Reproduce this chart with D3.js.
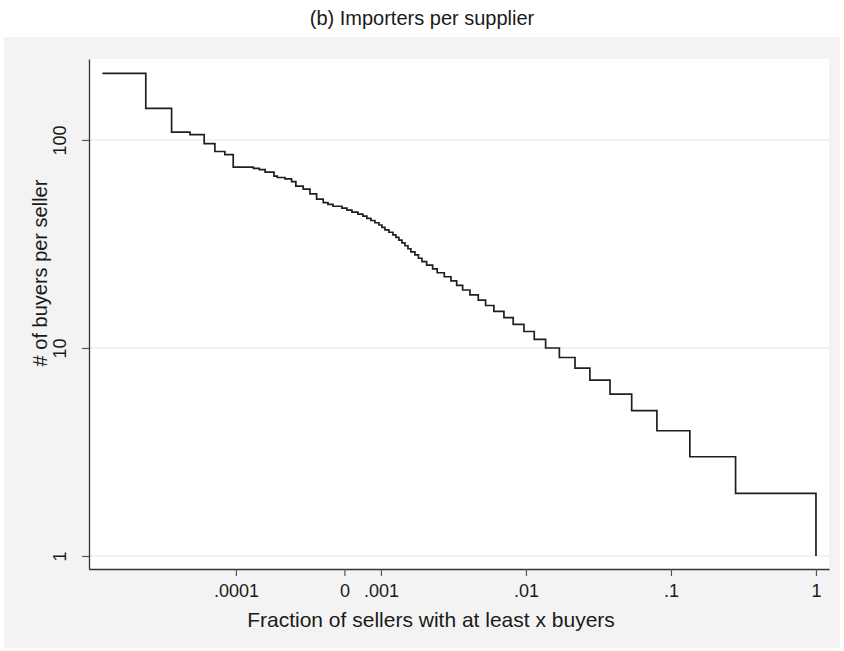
<!DOCTYPE html>
<html>
<head>
<meta charset="utf-8">
<script src="https://cdn.jsdelivr.net/npm/d3@7"></script>
<style>
  html, body { margin: 0; padding: 0; background: #ffffff; }
  svg { display: block; }
  text { font-family: "Liberation Sans", Arial, Helvetica, sans-serif; fill: #1a1a1a; }
</style>
</head>
<body>
<div id="chart"></div>
<script>
// Number of buyers per seller (y) at each step
const buyers = [209, 142, 109, 106, 96, 88, 85, 74, 73, 72, 70, 67, 66, 65, 63, 60, 58, 55, 52,
  50, 49, 48, 47, 46, 45, 44, 43, 42, 41, 40, 39, 38, 37, 36, 35, 34, 33, 32, 31, 30,
  29, 28, 27, 26, 25, 24, 23, 22, 21, 20, 19, 18, 17, 16, 15, 14, 13, 12, 11, 10,
  9, 8, 7, 6, 5, 4, 3, 2, 1];
// Fraction of sellers with at least x buyers (x)
const fraction = [1.20e-5, 2.39e-5, 3.60e-5, 4.82e-5, 6.04e-5, 7.16e-5, 8.39e-5, 9.58e-5, 1.32e-4, 1.45e-4,
  1.59e-4, 1.83e-4, 1.93e-4, 2.18e-4, 2.42e-4, 2.59e-4, 2.91e-4, 3.24e-4, 3.60e-4,
  4.00e-4, 4.31e-4, 4.67e-4, 5.38e-4, 5.83e-4, 6.31e-4, 6.94e-4, 7.51e-4, 8.00e-4, 8.53e-4, 9.09e-4,
  9.69e-4, 1.016e-3, 1.066e-3, 1.135e-3, 1.21e-3, 1.268e-3, 1.33e-3, 1.396e-3, 1.464e-3, 1.536e-3,
  1.61e-3, 1.715e-3, 1.814e-3, 1.919e-3, 2.066e-3, 2.273e-3, 2.444e-3, 2.734e-3, 3.04e-3, 3.33e-3,
  3.66e-3, 4.11e-3, 4.69e-3, 5.27e-3, 6.01e-3, 7.05e-3, 8.17e-3, 9.69e-3, 1.141e-2, 1.367e-2,
  1.70e-2, 2.18e-2, 2.76e-2, 3.80e-2, 5.36e-2, 8.0e-2, 0.135, 0.279, 1];

const xTickValues = [0.0001, 0.00056, 0.001, 0.01, 0.1, 1];
const xTickLabels = [".0001", "0", ".001", ".01", ".1", "1"];
const yTickValues = [1, 10, 100];
const yTickLabels = ["1", "10", "100"];

const titleText = "(b) Importers per supplier";
const xTitle = "Fraction of sellers with at least x buyers";
const yTitle = "# of buyers per seller";

const W = 844, H = 651;
const plot = { left: 89, right: 829, top: 59, bottom: 569 };

const svg = d3.select("#chart").append("svg").attr("width", W).attr("height", H);

svg.append("rect").attr("x", 4).attr("y", 37).attr("width", 836).attr("height", 611).attr("fill", "#f3f3f3");
svg.append("rect").attr("x", plot.left).attr("y", plot.top)
  .attr("width", plot.right - plot.left).attr("height", plot.bottom - plot.top).attr("fill", "#ffffff");

const x = d3.scaleLog().domain([9.7e-6, 1.23]).range([plot.left, plot.right]);
const y = d3.scaleLog().domain([0.866, 245]).range([plot.bottom, plot.top]);

// gridlines
svg.append("g").selectAll("line").data(yTickValues).join("line")
  .attr("x1", plot.left).attr("x2", plot.right)
  .attr("y1", d => y(d)).attr("y2", d => y(d))
  .attr("stroke", "#ececec").attr("stroke-width", 1.5);

// axes
const xAxis = d3.axisBottom(x).tickValues(xTickValues)
  .tickFormat((d, i) => xTickLabels[i]).tickSize(7).tickSizeOuter(0).tickPadding(6);
const gx = svg.append("g").attr("transform", `translate(0,${plot.bottom})`).call(xAxis);
gx.select(".domain").attr("stroke", "#333").attr("stroke-width", 1.3);
gx.selectAll(".tick line").attr("stroke", "#555").attr("stroke-width", 1.2);
gx.selectAll(".tick text").attr("font-size", 18).attr("fill", "#1a1a1a")
  .style("font-family", '"Liberation Sans", Arial, sans-serif')
  .attr("dy", "0.85em");

const yAxis = d3.axisLeft(y).tickValues(yTickValues)
  .tickFormat((d, i) => yTickLabels[i]).tickSize(7).tickSizeOuter(0).tickPadding(6);
const gy = svg.append("g").attr("transform", `translate(${plot.left},0)`).call(yAxis);
gy.select(".domain").attr("stroke", "#333").attr("stroke-width", 1.3);
gy.selectAll(".tick line").attr("stroke", "#555").attr("stroke-width", 1.2);
gy.selectAll(".tick text").attr("font-size", 18).attr("fill", "#1a1a1a")
  .style("font-family", '"Liberation Sans", Arial, sans-serif')
  .attr("x", null).attr("dy", null)
  .attr("text-anchor", "middle")
  .attr("transform", "translate(-23,0) rotate(-90)");

// step line
const pts = fraction.map((f, i) => [f, buyers[i]]);
const line = d3.line().x(d => x(d[0])).y(d => y(d[1])).curve(d3.curveStepAfter);
svg.append("path").datum(pts).attr("d", line)
  .attr("fill", "none").attr("stroke", "#1f1f1f").attr("stroke-width", 1.7);

// titles
svg.append("text").attr("x", 422).attr("y", 25).attr("text-anchor", "middle")
  .attr("font-size", 20).text(titleText);
svg.append("text").attr("x", 431).attr("y", 627).attr("text-anchor", "middle")
  .attr("font-size", 21).text(xTitle);
svg.append("text").attr("transform", "translate(47,273) rotate(-90)").attr("text-anchor", "middle")
  .attr("font-size", 20).text(yTitle);
</script>
</body>
</html>
